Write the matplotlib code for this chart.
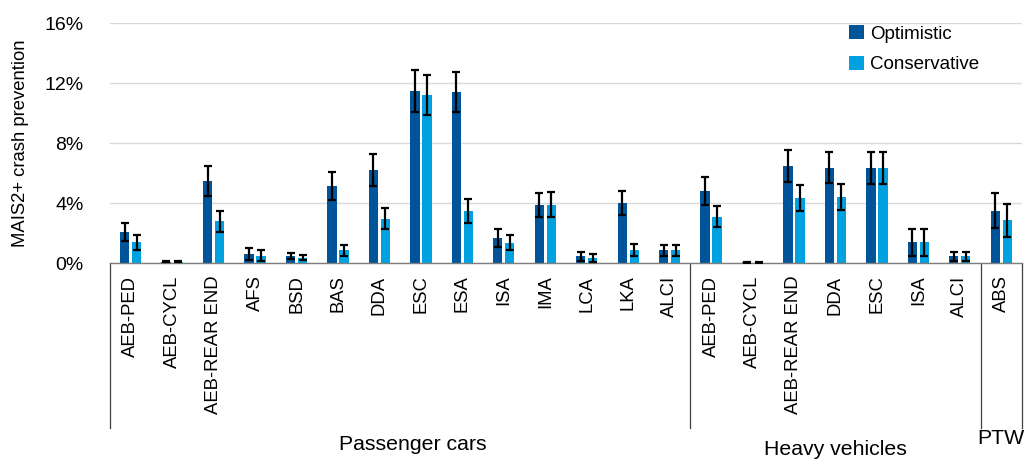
import numpy as np
import matplotlib
matplotlib.use('Agg')
import matplotlib.pyplot as plt

plt.rcParams['font.family'] = ['Liberation Sans', 'DejaVu Sans']

# categories per vehicle group
cats_pc = ['AEB-PED', 'AEB-CYCL', 'AEB-REAR END', 'AFS', 'BSD', 'BAS', 'DDA',
           'ESC', 'ESA', 'ISA', 'IMA', 'LCA', 'LKA', 'ALCI']
cats_hv = ['AEB-PED', 'AEB-CYCL', 'AEB-REAR END', 'DDA', 'ESC', 'ISA', 'ALCI']
cats_ptw = ['ABS']
groups = ['Passenger cars', 'Heavy vehicles', 'PTW']

# MAIS2+ crash prevention in percent
optimistic = [2.1, 0.1, 5.5, 0.6, 0.45, 5.15, 6.2, 11.45, 11.4, 1.7, 3.9, 0.45, 4.0, 0.85,
              4.8, 0.05, 6.45, 6.35, 6.35, 1.4, 0.45,
              3.5]
opt_err = [0.6, 0.05, 1.0, 0.4, 0.2, 0.95, 1.05, 1.4, 1.35, 0.6, 0.8, 0.3, 0.8, 0.38,
           0.95, 0.02, 1.07, 1.02, 1.05, 0.9, 0.3,
           1.15]
conservative = [1.4, 0.1, 2.8, 0.5, 0.35, 0.85, 2.95, 11.2, 3.5, 1.35, 3.9, 0.35, 0.9, 0.85,
                3.1, 0.03, 4.35, 4.4, 6.35, 1.4, 0.45,
                2.85]
cons_err = [0.5, 0.05, 0.7, 0.35, 0.17, 0.38, 0.7, 1.35, 0.8, 0.5, 0.83, 0.28, 0.4, 0.38,
            0.7, 0.02, 0.85, 0.88, 1.05, 0.9, 0.3,
            1.1]

DARK = '#00549A'
LIGHT = '#00A1E1'
LINE = '#7F7F7F'


def main():
    cats = cats_pc + cats_hv + cats_ptw
    n = len(cats)
    x = np.arange(n)
    w = 0.225
    off = 0.145

    fig = plt.figure(figsize=(10.26, 4.62), dpi=100)
    ax = fig.add_axes([0.1072, 0.4307, 0.8889, 0.5195])

    ax.bar(x - off, optimistic, w, color=DARK, label='Optimistic', zorder=2)
    ax.bar(x + off, conservative, w, color=LIGHT, label='Conservative', zorder=2)
    ax.errorbar(x - off, optimistic, yerr=opt_err, fmt='none', ecolor='black',
                elinewidth=1.6, capsize=2.8, capthick=1.6, zorder=3)
    ax.errorbar(x + off, conservative, yerr=cons_err, fmt='none', ecolor='black',
                elinewidth=1.6, capsize=2.8, capthick=1.6, zorder=3)

    ax.set_xlim(-0.5, n - 0.5)
    ax.set_ylim(0, 16)
    ax.set_yticks([0, 4, 8, 12, 16])
    ax.set_yticklabels(['0%', '4%', '8%', '12%', '16%'])
    ax.yaxis.grid(True, color='#D9D9D9', linewidth=1.0, zorder=0)
    ax.set_axisbelow(True)
    for s in ['top', 'right', 'left']:
        ax.spines[s].set_visible(False)
    ax.spines['bottom'].set_color(LINE)
    ax.spines['bottom'].set_linewidth(1.0)
    ax.tick_params(axis='y', length=0, labelsize=14, pad=19)
    ax.set_xticks(x)
    ax.set_xticklabels(cats, rotation=90, fontsize=13.3)
    ax.tick_params(axis='x', length=0, pad=9)
    ax.set_ylabel('MAIS2+ crash prevention', fontsize=13.3, labelpad=11)

    # category box below the axis
    tr = ax.get_xaxis_transform()
    y_bot = -0.6875
    for xv in [-0.5, 13.5, 20.5, n - 0.5]:
        ax.plot([xv, xv], [0, y_bot], transform=tr, color='#404040',
                linewidth=0.9, clip_on=False)

    ax.text(6.8, -0.758, groups[0], transform=tr, ha='center', va='center', fontsize=15.3)
    ax.text(17.0, -0.778, groups[1], transform=tr, ha='center', va='center', fontsize=15.3)
    ax.text(21.0, -0.733, groups[2], transform=tr, ha='center', va='center', fontsize=15.3)

    ax.legend(loc='upper left', bbox_to_anchor=(0.80, 1.03), frameon=False,
              fontsize=13.5, handlelength=0.78, handleheight=0.78,
              handletextpad=0.35, labelspacing=0.7, borderpad=0)

    fig.savefig('out.png', dpi=100)


if __name__ == "__main__":
    main()
